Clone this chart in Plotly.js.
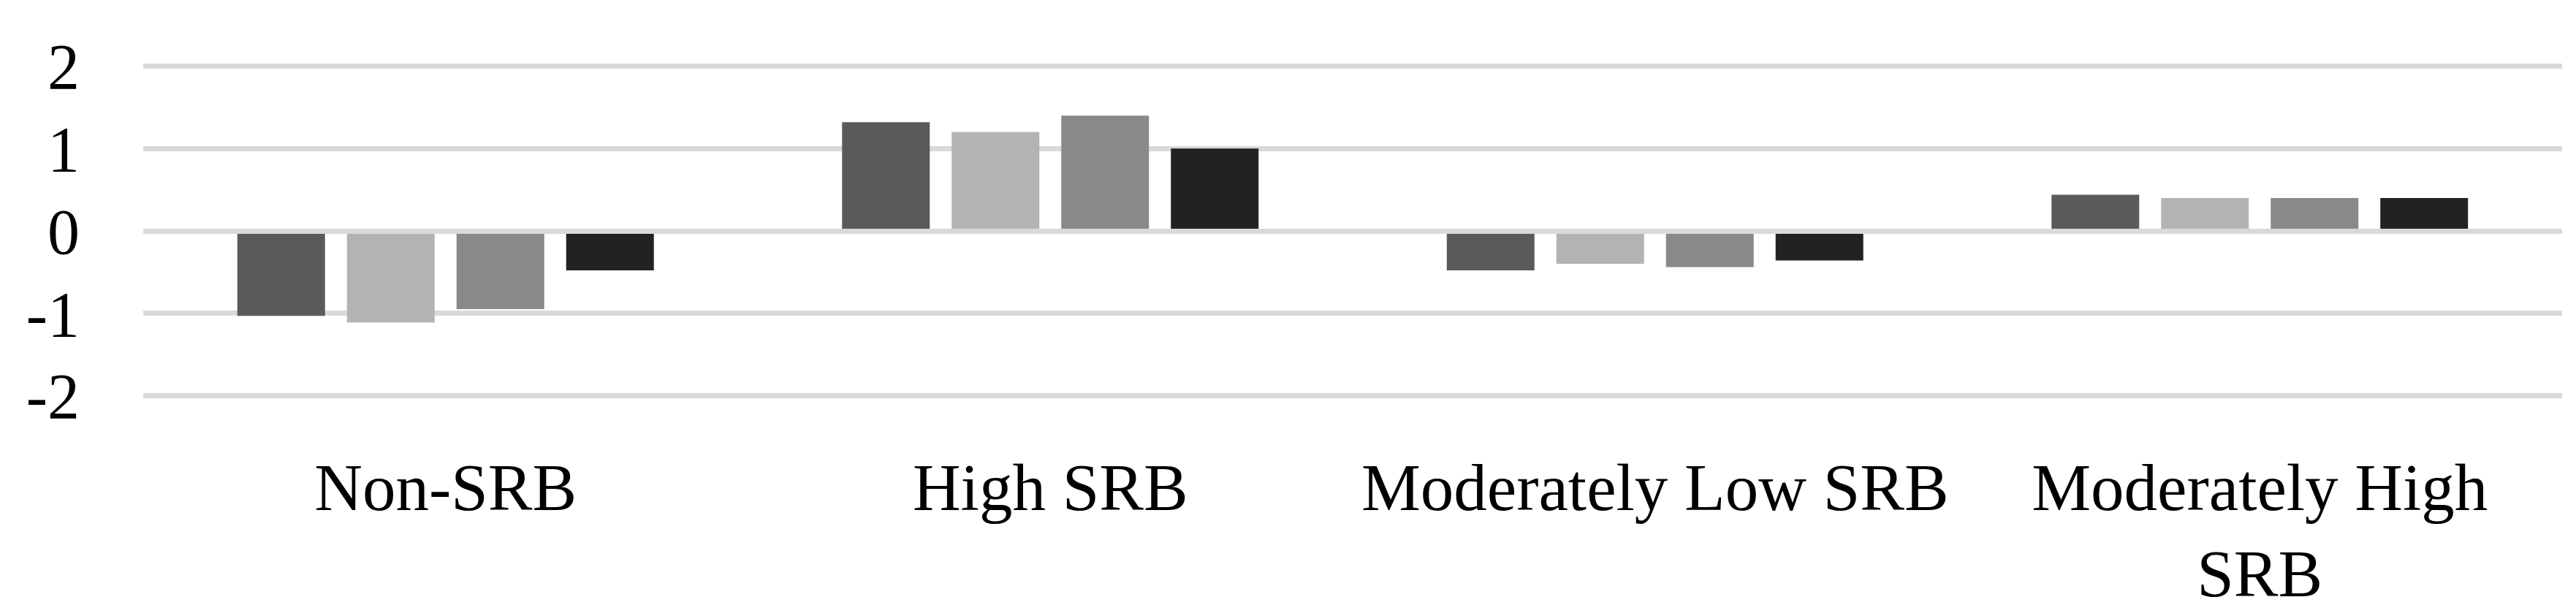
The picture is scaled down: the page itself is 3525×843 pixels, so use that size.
<!DOCTYPE html>
<html>
<head>
<meta charset="utf-8">
<script src="https://cdn.plot.ly/plotly-3.0.1.min.js"></script>
<style>html,body{margin:0;padding:0;background:#fff;}#chart{width:3525px;height:843px;}</style>
</head>
<body>
<div id="chart"></div>
<script>
const categories = ["Non-SRB", "High SRB", "Moderately Low SRB", "Moderately High<br>SRB"];
const series1 = [-1.03, 1.32, -0.48, 0.44];
const series2 = [-1.11, 1.20, -0.40, 0.40];
const series3 = [-0.95, 1.40, -0.44, 0.40];
const series4 = [-0.48, 1.00, -0.36, 0.40];
const seriesNames = ["Series 1", "Series 2", "Series 3", "Series 4"];
const yTickVals = [-2, -1, 0, 1, 2];
const yTickText = ["-2", "-1", "0", "1", "2"];

const colors = ["#5a5a5a", "#b3b3b3", "#898989", "#222222"];
const allSeries = [series1, series2, series3, series4];
const traces = allSeries.map((vals, i) => ({
  type: "bar",
  x: categories,
  y: vals,
  name: seriesNames[i],
  marker: {color: colors[i], line: {width: 0}},
  hoverinfo: "skip"
}));

const fontFam = "Liberation Serif, Times New Roman, serif";
const layout = {
  width: 3525,
  height: 843,
  margin: {l: 196, r: 19, t: 85.5, b: 296.5, pad: 0},
  paper_bgcolor: "#ffffff",
  plot_bgcolor: "#ffffff",
  showlegend: false,
  barmode: "group",
  bargap: 0.275,
  bargroupgap: 0.2,
  font: {family: fontFam, size: 88, color: "#000000"},
  xaxis: {
    type: "category",
    showgrid: false,
    showline: false,
    zeroline: false,
    ticks: "",
    ticklabelstandoff: 60,
    tickfont: {family: fontFam, size: 91, color: "#000000"},
    automargin: false
  },
  yaxis: {
    range: [-2.04, 2.04],
    tickvals: yTickVals,
    ticktext: yTickText,
    showgrid: true,
    gridcolor: "#d9d9d9",
    gridwidth: 7,
    zeroline: true,
    zerolinecolor: "#d9d9d9",
    zerolinewidth: 7,
    zerolinelayer: "above traces",
    showline: false,
    ticks: "",
    ticklabelstandoff: 86,
    tickfont: {family: fontFam, size: 88, color: "#000000"},
    automargin: false
  }
};

Plotly.newPlot("chart", traces, layout, {staticPlot: true, displayModeBar: false});
</script>
</body>
</html>
